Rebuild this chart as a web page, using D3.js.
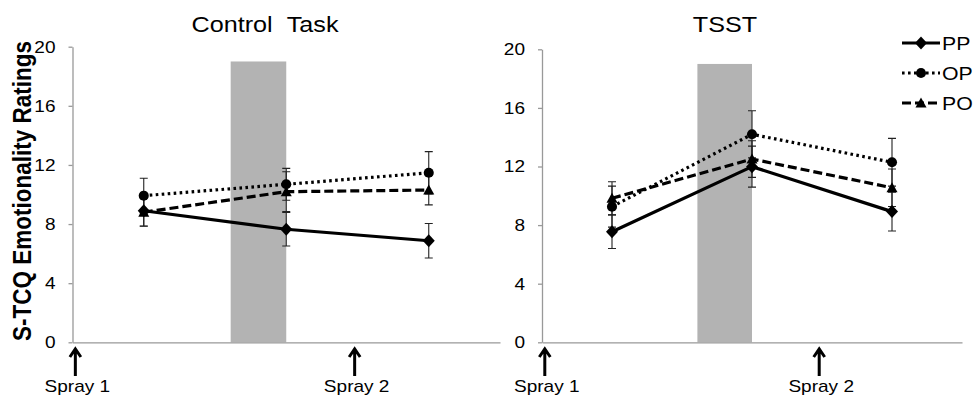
<!DOCTYPE html>
<html>
<head>
<meta charset="utf-8">
<script src="https://cdnjs.cloudflare.com/ajax/libs/d3/7.8.5/d3.min.js"></script>
<style>
	body { margin: 0; background: #fff; }
	svg { display: block; font-family: "Liberation Sans", Arial, sans-serif; }
	.axis path, .axis line { stroke: #999; stroke-width: 1.3px; }
	.axis text { font-size: 17px; fill: #000; }
	.errbar { stroke: #222; stroke-width: 1.1px; fill: none; }
	.serline { stroke: #000; stroke-width: 3.2px; fill: none; }
	.spray { stroke: #000; stroke-width: 3px; fill: none; }
</style>
</head>
<body>
<svg id="chart" width="974" height="400"></svg>
<script>
// Time points (1 = pre, 2 = task, 3 = post)
var timepoints = [1, 2, 3];
var yTicks = [0, 4, 8, 12, 16, 20];
var seriesNames = ["PP", "OP", "PO"];

// Control Task
var controlPP = [8.9, 7.65, 6.87];
var controlPPErr = [1.03, 1.13, 1.17];
var controlOP = [9.92, 10.69, 11.47];
var controlOPErr = [1.18, 1.08, 1.43];
var controlPO = [8.8, 10.19, 10.3];
var controlPOErr = [0.95, 1.35, 1.0];

// TSST
var tsstPP = [7.55, 11.99, 8.92];
var tsstPPErr = [1.15, 1.4, 1.32];
var tsstOP = [9.26, 14.2, 12.29];
var tsstOPErr = [1.4, 1.61, 1.63];
var tsstPO = [9.83, 12.51, 10.55];
var tsstPOErr = [1.13, 1.25, 1.28];

// Task window (shaded) and spray annotations
var taskWindow = [1.61, 2.0];
var taskTop = 19;
var sprayTimes = [0.52, 2.48];
var sprayLabels = ["Spray 1", "Spray 2"];

var SX = 1.12; // horizontal text stretch of the original figure

var styles = {
	PP: {dash: null, marker: "diamond"},
	OP: {dash: "2.6,3.4", marker: "circle"},
	PO: {dash: "9,4", marker: "triangle"}
};

var panels = [
	{title: "Control\u00a0\u00a0Task", titleX: 265, left: 72.5, right: 500, top: 46.7, bottom: 342.3,
		values: {PP: controlPP, OP: controlOP, PO: controlPO},
		errs: {PP: controlPPErr, OP: controlOPErr, PO: controlPOErr}, yLabel: true},
	{title: "TSST", titleX: 725, left: 542, right: 962, top: 49.3, bottom: 342.3,
		values: {PP: tsstPP, OP: tsstOP, PO: tsstPO},
		errs: {PP: tsstPPErr, OP: tsstOPErr, PO: tsstPOErr}, yLabel: false}
];

var svg = d3.select("#chart");

// Marker path centred on 0,0
function markerPath(type) {
	if (type == "diamond") return "M0,-6.5L6,0L0,6.5L-6,0Z";
	if (type == "triangle") return "M0,-5.5L5.5,4.5L-5.5,4.5Z";
	return d3.symbol(d3.symbolCircle, 80)();
}

// Stretched text helper
function addText(parent, x, y, str, size, anchor, weight) {
	return parent.append("text")
		.attr("transform", "translate(" + x + "," + y + ") scale(" + SX + ",1)")
		.attr("text-anchor", anchor || "middle")
		.attr("font-size", size)
		.attr("font-weight", weight || "normal")
		.attr("fill", "#000")
		.text(str);
}

panels.forEach(function(p) {
	var x = d3.scaleLinear().domain([0.5, 3.5]).range([p.left, p.right]);
	var y = d3.scaleLinear().domain([0, 20]).range([p.bottom, p.top]);
	var g = svg.append("g");

	// Shaded task window
	g.append("rect")
		.attr("x", x(taskWindow[0]))
		.attr("y", y(taskTop))
		.attr("width", x(taskWindow[1]) - x(taskWindow[0]))
		.attr("height", y(0) - y(taskTop))
		.attr("fill", "#b3b3b3");

	// Axes
	var yAxis = d3.axisLeft(y).tickValues(yTicks).tickSize(4).tickSizeOuter(0);
	g.append("g")
		.attr("class", "y axis")
		.attr("transform", "translate(" + p.left + ",0)")
		.call(yAxis)
		.selectAll("text")
		.attr("x", 0)
		.attr("transform", "translate(-17,0) scale(" + SX + ",1)");

	g.append("g")
		.attr("class", "x axis")
		.attr("transform", "translate(0," + p.bottom + ")")
		.call(d3.axisBottom(x).tickValues([]).tickSizeOuter(0));

	// Title
	addText(g, p.titleX, 32, p.title, 22.5);

	// Error bars
	seriesNames.forEach(function(name) {
		var vals = p.values[name], errs = p.errs[name];
		timepoints.forEach(function(t, i) {
			var lo = y(vals[i] - errs[i]), hi = y(vals[i] + errs[i]), cx = x(t);
			g.append("path")
				.attr("class", "errbar")
				.attr("d", "M" + cx + "," + lo + "V" + hi +
					"M" + (cx - 4) + "," + lo + "H" + (cx + 4) +
					"M" + (cx - 4) + "," + hi + "H" + (cx + 4));
		});
	});

	// Lines
	var line = d3.line()
		.x(function(d) { return x(d.t); })
		.y(function(d) { return y(d.v); });

	seriesNames.forEach(function(name) {
		var pts = timepoints.map(function(t, i) { return {t: t, v: p.values[name][i]}; });
		g.append("path")
			.datum(pts)
			.attr("class", "serline")
			.attr("stroke-dasharray", styles[name].dash)
			.attr("d", line);
	});

	// Markers
	seriesNames.forEach(function(name) {
		timepoints.forEach(function(t, i) {
			g.append("path")
				.attr("d", markerPath(styles[name].marker))
				.attr("transform", "translate(" + x(t) + "," + y(p.values[name][i]) + ")")
				.attr("fill", "#000");
		});
	});

	// Spray arrows and labels
	sprayTimes.forEach(function(t, i) {
		var ax = x(t);
		g.append("path")
			.attr("class", "spray")
			.attr("d", "M" + ax + ",376V349M" + (ax - 5.5) + ",357L" + ax + ",349L" + (ax + 5.5) + ",357");
		addText(g, ax + 2, 392, sprayLabels[i], 17);
	});

	// Y axis label
	if (p.yLabel) {
		g.append("text")
			.attr("transform", "translate(30.5,191) scale(" + SX + ",1) rotate(-90)")
			.attr("text-anchor", "middle")
			.attr("font-size", 22.5)
			.attr("font-weight", "bold")
			.attr("fill", "#000")
			.text("S-TCQ Emotionality Ratings");
	}
});

// Legend
var legend = svg.append("g").attr("transform", "translate(902,43)");
seriesNames.forEach(function(name, i) {
	var row = legend.append("g").attr("transform", "translate(0," + (i * 30) + ")");
	row.append("line")
		.attr("class", "serline")
		.attr("x1", 0).attr("x2", 38)
		.attr("y1", 0).attr("y2", 0)
		.attr("stroke-dasharray", styles[name].dash);
	row.append("path")
		.attr("d", markerPath(styles[name].marker))
		.attr("transform", "translate(19,0)")
		.attr("fill", "#000");
	addText(row, 40, 7, name, 19, "start");
});
</script>
</body>
</html>
